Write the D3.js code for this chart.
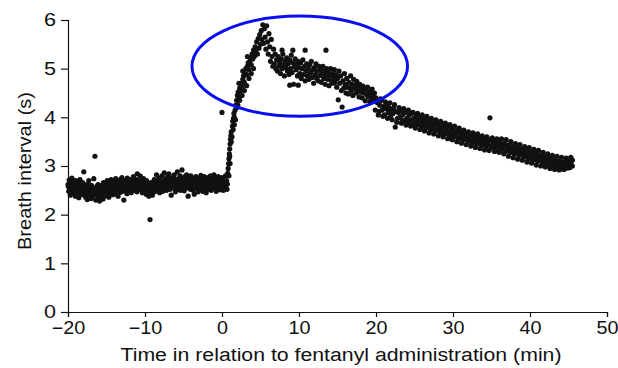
<!DOCTYPE html>
<html>
<head>
<meta charset="utf-8">
<script src="https://cdn.jsdelivr.net/npm/d3@7"></script>
<style>
  body { margin: 0; background: #fff; }
  svg { display: block; }
  text { font-family: "Liberation Sans", Arial, sans-serif; fill: #111; }
</style>
</head>
<body>
<svg id="chart" width="618" height="368"></svg>
<script>
// DATA: [time (min), breath interval (s)]
const baseline = [[-20,2.62],[-19.95,2.58],[-19.9,2.48],[-19.85,2.71],[-19.8,2.55],[-19.75,2.64],[-19.7,2.4],[-19.65,2.66],[-19.6,2.52],[-19.55,2.45],[-19.5,2.75],[-19.4,2.58],[-19.35,2.45],[-19.3,2.69],[-19.25,2.6],[-19.2,2.53],[-19.1,2.62],[-19.05,2.38],[-19,2.7],[-18.95,2.55],[-18.9,2.5],[-18.8,2.6],[-18.75,2.43],[-18.7,2.68],[-18.65,2.5],[-18.6,2.35],[-18.5,2.57],[-18.45,2.72],[-18.4,2.47],[-18.35,2.65],[-18.3,2.6],[-18.2,2.41],[-18.15,2.55],[-18.1,2.66],[-18.05,2.52],[-17.95,2.88],[-17.9,2.44],[-17.85,2.5],[-17.8,2.58],[-17.7,2.36],[-17.65,2.45],[-17.6,2.62],[-17.55,2.49],[-17.5,2.31],[-17.4,2.55],[-17.35,2.6],[-17.3,2.7],[-17.25,2.42],[-17.15,2.4],[-17.1,2.5],[-17,2.33],[-16.95,2.6],[-16.9,2.46],[-16.85,2.52],[-16.8,2.38],[-16.7,2.55],[-16.65,2.74],[-16.55,2.45],[-16.5,3.2],[-16.45,2.43],[-16.4,2.3],[-16.3,2.52],[-16.25,2.58],[-16.2,2.4],[-16.1,2.62],[-16.05,2.35],[-16,2.48],[-15.95,2.42],[-15.9,2.28],[-15.8,2.56],[-15.75,2.44],[-15.7,2.37],[-15.65,2.52],[-15.6,2.6],[-15.5,2.5],[-15.45,2.32],[-15.4,2.66],[-15.35,2.58],[-15.3,2.45],[-15.2,2.55],[-15.15,2.46],[-15.1,2.39],[-15.05,2.61],[-15,2.5],[-14.9,2.7],[-14.85,2.6],[-14.8,2.44],[-14.75,2.57],[-14.7,2.36],[-14.6,2.64],[-14.55,2.45],[-14.5,2.52],[-14.4,2.72],[-14.35,2.47],[-14.3,2.59],[-14.25,2.65],[-14.2,2.41],[-14.1,2.68],[-14,2.55],[-13.95,2.5],[-13.9,2.63],[-13.85,2.43],[-13.8,2.74],[-13.7,2.5],[-13.65,2.68],[-13.6,2.6],[-13.5,2.38],[-13.45,2.67],[-13.4,2.53],[-13.35,2.6],[-13.3,2.71],[-13.2,2.46],[-13.15,2.52],[-13.1,2.62],[-13.05,2.56],[-13,2.76],[-12.9,2.48],[-12.85,2.6],[-12.8,2.66],[-12.75,2.3],[-12.7,2.58],[-12.6,2.7],[-12.55,2.62],[-12.5,2.51],[-12.4,2.64],[-12.35,2.43],[-12.3,2.75],[-12.25,2.52],[-12.2,2.57],[-12.1,2.67],[-12,2.49],[-11.95,2.6],[-11.9,2.72],[-11.85,2.6],[-11.8,2.45],[-11.7,2.69],[-11.65,2.65],[-11.6,2.55],[-11.5,2.78],[-11.45,2.62],[-11.4,2.5],[-11.35,2.55],[-11.3,2.73],[-11.2,2.58],[-11.15,2.72],[-11.1,2.66],[-11.05,2.47],[-11,2.84],[-10.9,2.6],[-10.85,2.55],[-10.8,2.7],[-10.75,2.52],[-10.7,2.64],[-10.6,2.79],[-10.55,2.68],[-10.5,2.56],[-10.4,2.68],[-10.35,2.45],[-10.3,2.62],[-10.25,2.58],[-10.2,2.74],[-10.1,2.5],[-10,2.66],[-9.95,2.5],[-9.9,2.58],[-9.85,2.42],[-9.8,2.7],[-9.7,2.55],[-9.65,2.6],[-9.6,2.63],[-9.5,2.38],[-9.45,2.6],[-9.4,2.5],[-9.35,1.9],[-9.3,2.46],[-9.25,2.55],[-9.2,2.66],[-9.1,2.55],[-9.05,2.4],[-9,2.61],[-8.95,2.65],[-8.9,2.52],[-8.8,2.72],[-8.75,2.47],[-8.7,2.63],[-8.65,2.55],[-8.6,2.58],[-8.5,2.82],[-8.45,2.5],[-8.4,2.68],[-8.35,2.62],[-8.3,2.57],[-8.2,2.75],[-8.15,2.68],[-8.1,2.45],[-8.05,2.64],[-8,2.7],[-7.9,2.54],[-7.85,2.62],[-7.8,2.8],[-7.75,2.6],[-7.7,2.48],[-7.6,2.69],[-7.55,2.6],[-7.5,2.86],[-7.45,2.57],[-7.4,2.73],[-7.3,2.62],[-7.25,2.68],[-7.2,2.5],[-7.1,2.77],[-7.05,2.66],[-7,2.58],[-6.95,2.62],[-6.9,2.84],[-6.8,2.7],[-6.75,2.52],[-6.7,2.65],[-6.65,2.58],[-6.6,2.4],[-6.5,2.76],[-6.45,2.6],[-6.4,2.7],[-6.35,2.65],[-6.3,2.55],[-6.2,2.82],[-6.15,2.72],[-6.1,2.64],[-6.05,2.47],[-6,2.72],[-5.9,2.6],[-5.85,2.55],[-5.8,2.88],[-5.75,2.68],[-5.7,2.53],[-5.6,2.74],[-5.55,2.68],[-5.5,2.62],[-5.45,2.8],[-5.4,2.5],[-5.3,2.7],[-5.25,2.6],[-5.2,2.92],[-5.1,2.58],[-5.05,2.75],[-5,2.64],[-4.95,2.72],[-4.9,2.49],[-4.8,2.78],[-4.75,2.66],[-4.7,2.56],[-4.65,2.62],[-4.6,2.82],[-4.5,2.7],[-4.45,2.6],[-4.4,2.38],[-4.35,2.55],[-4.3,2.75],[-4.2,2.63],[-4.15,2.7],[-4.1,2.52],[-4.05,2.8],[-4,2.68],[-3.9,2.58],[-3.85,2.62],[-3.8,2.73],[-3.75,2.5],[-3.7,2.66],[-3.6,2.42],[-3.55,2.58],[-3.5,2.7],[-3.45,2.6],[-3.4,2.78],[-3.3,2.55],[-3.25,2.72],[-3.2,2.67],[-3.1,2.47],[-3.05,2.74],[-3,2.62],[-2.95,2.65],[-2.9,2.52],[-2.8,2.69],[-2.75,2.81],[-2.7,2.58],[-2.65,2.72],[-2.6,2.65],[-2.5,2.48],[-2.45,2.72],[-2.4,2.6],[-2.35,2.55],[-2.3,2.78],[-2.2,2.55],[-2.15,2.62],[-2.1,2.66],[-2.05,2.45],[-2,2.7],[-1.9,2.61],[-1.85,2.55],[-1.8,2.76],[-1.75,2.52],[-1.7,2.64],[-1.6,2.57],[-1.55,2.68],[-1.5,2.8],[-1.45,2.68],[-1.4,2.5],[-1.3,2.73],[-1.25,2.58],[-1.2,2.62],[-1.1,2.55],[-1.05,2.82],[-1,2.66],[-0.95,2.7],[-0.9,2.58],[-0.8,2.74],[-0.75,2.48],[-0.7,2.69],[-0.65,2.55],[-0.6,2.6],[-0.5,2.78],[-0.45,2.55],[-0.4,2.7],[-0.35,2.58],[-0.3,2.63],[-0.2,2.51],[-0.15,2.62],[-0.1,2.76],[-0.05,2.65],[0,2.58],[0.1,2.72],[0.15,2.6],[0.2,2.5],[0.3,2.67],[0.35,2.55],[0.4,2.6],[0.45,2.8],[0.5,2.56],[0.55,2.65],[0.6,2.7],[0.65,2.52],[0.7,2.63],[0.75,2.85]];

const rise = [[0,4.1],[0.8,2.95],[0.85,3.05],[0.9,2.8],[0.9,3.15],[0.95,3.25],[1,3.35],[1,3.2],[1.05,3.05],[1.05,3.45],[1.1,3.55],[1.15,3.62],[1.2,3.5],[1.2,3.7],[1.3,3.6],[1.35,3.82],[1.4,3.92],[1.45,3.75],[1.5,3.98],[1.55,4.08],[1.6,3.85],[1.6,4],[1.7,4.15],[1.75,3.95],[1.8,4.25],[1.9,4.35],[1.95,4.2],[2,4.45],[2.05,4.25],[2.1,4.52],[2.2,4.4],[2.2,4.7],[2.3,4.6],[2.3,4.35],[2.4,4.55],[2.5,4.7],[2.6,4.62],[2.6,4.45],[2.7,4.78],[2.7,4.95],[2.8,4.85],[2.9,4.72],[2.9,4.55],[3,4.9],[3.1,5],[3.2,4.88],[3.2,4.65],[3.3,5.05],[3.3,5.25],[3.4,5.12],[3.5,4.98],[3.5,4.8],[3.6,5.15],[3.7,5.22],[3.8,5.08],[3.8,4.9],[3.9,5.3],[4,5.2],[4.1,5.38],[4.1,5],[4.2,5.25],[4.3,5.45],[4.4,5.35],[4.5,5.55],[4.6,5.3],[4.7,5.62],[4.8,5.42],[4.9,5.7],[5,5.5],[5.1,5.78],[5.2,5.6],[5.3,5.9],[5.4,5.52],[5.5,5.82],[5.6,5.65],[5.7,5.4],[5.8,5.88],[5.9,5.55],[6,5.3],[6.1,5.72],[6.2,5.45],[6.3,5.15],[6.4,5.6],[6.5,5.25],[6.6,5.05],[6.7,5.4],[6.8,5.1],[6.9,5.3],[7,5]];

const decline = [[7.1,5.18],[7.2,4.95],[7.3,5.25],[7.4,5.05],[7.5,5.12],[7.6,4.9],[7.7,5.2],[7.8,5.38],[7.8,5],[7.9,5.3],[8,5.08],[8.1,4.85],[8.2,5.15],[8.3,5.02],[8.4,5.22],[8.5,4.95],[8.6,5.1],[8.7,4.88],[8.8,4.66],[8.8,5.18],[8.9,5],[9,5.28],[9.1,4.92],[9.2,5.38],[9.2,5.12],[9.3,4.68],[9.4,5.05],[9.5,5.2],[9.6,4.98],[9.7,5.1],[9.8,4.85],[9.9,4.66],[9.9,5.15],[10,5.02],[10.1,4.9],[10.2,5.12],[10.3,4.8],[10.4,5],[10.5,5.18],[10.6,4.88],[10.7,5.05],[10.8,5.38],[10.8,4.75],[10.9,4.95],[11,5.1],[11.1,4.85],[11.2,5],[11.3,4.78],[11.4,5.08],[11.5,4.92],[11.6,5.15],[11.7,4.82],[11.8,4.98],[11.9,4.7],[12,5.02],[12.1,4.88],[12.2,5.1],[12.3,4.8],[12.4,4.95],[12.5,4.75],[12.6,5.05],[12.7,4.86],[12.8,4.98],[12.9,4.72],[13,4.9],[13.1,5.05],[13.2,4.8],[13.3,4.95],[13.4,4.68],[13.5,5.38],[13.5,4.88],[13.6,5],[13.7,4.78],[13.8,4.92],[13.9,4.65],[14,4.85],[14.1,5],[14.2,4.75],[14.3,4.9],[14.4,4.7],[14.5,4.82],[14.6,4.98],[14.7,4.72],[14.8,4.88],[14.9,4.62],[15,4.8],[15.1,4.36],[15.2,4.95],[15.3,4.7],[15.4,4.85],[15.5,4.55],[15.6,4.21],[15.7,4.75],[15.8,4.6],[15.9,4.9],[16,4.68],[16.1,4.5],[16.2,4.8],[16.3,4.62],[16.4,4.48],[16.5,4.72],[16.6,4.6],[16.7,4.85],[16.8,4.55],[16.9,4.68],[17,4.45],[17.1,4.78],[17.2,4.6],[17.3,4.66],[17.4,4.5],[17.5,4.74],[17.6,4.55],[17.7,4.65],[17.8,4.42],[17.9,4.68],[18,4.52],[18.1,4.6],[18.2,4.4],[18.3,4.64],[18.4,4.5],[18.5,4.56],[18.6,4.34],[18.7,4.58],[18.8,4.46],[18.9,4.62],[19,4.42],[19.1,4.53],[19.2,4.32],[19.3,4.5],[19.4,4.4],[19.5,4.58],[19.6,4.44],[19.7,4.34],[19.8,4.5],[19.9,4.15],[20,4.4]];

const recovery = [[20.2,4.3],[20.3,4.05],[20.4,4.12],[20.5,4.25],[20.6,4.38],[20.7,4.35],[20.8,4.15],[20.9,4.02],[21,4.22],[21.1,4.05],[21.2,4.32],[21.3,4.18],[21.4,4.28],[21.5,3.98],[21.6,4.1],[21.7,4.2],[21.8,4.3],[21.9,4.02],[22,4.15],[22.1,3.95],[22.2,4.08],[22.3,4.2],[22.4,4.26],[22.5,3.8],[22.6,4.12],[22.7,3.9],[22.8,3.98],[22.9,4.1],[23,4.2],[23.1,4],[23.2,4.15],[23.3,3.88],[23.4,3.95],[23.5,4.06],[23.6,4.18],[23.7,3.92],[23.8,4.1],[23.9,3.84],[24,3.98],[24.1,3.88],[24.2,4.15],[24.3,4.05],[24.4,3.95],[24.5,3.82],[24.6,4.08],[24.7,3.86],[24.8,4.1],[24.9,3.98],[25,3.9],[25.1,3.78],[25.2,4.02],[25.3,3.84],[25.4,4.08],[25.5,3.95],[25.6,3.88],[25.7,3.75],[25.8,4],[25.9,3.8],[26,4.05],[26.1,3.92],[26.2,3.85],[26.3,3.72],[26.4,3.97],[26.5,3.78],[26.6,4.02],[26.7,3.9],[26.8,3.82],[26.9,3.68],[27,3.94],[27.1,3.75],[27.2,3.98],[27.3,3.86],[27.4,3.8],[27.5,3.66],[27.6,3.9],[27.7,3.72],[27.8,3.95],[27.9,3.84],[28,3.76],[28.1,3.62],[28.2,3.88],[28.3,3.68],[28.4,3.92],[28.5,3.8],[28.6,3.72],[28.7,3.6],[28.8,3.84],[28.9,3.65],[29,3.88],[29.1,3.77],[29.2,3.7],[29.3,3.56],[29.4,3.82],[29.5,3.62],[29.6,3.85],[29.7,3.74],[29.8,3.66],[29.9,3.54],[30,3.78],[30.1,3.6],[30.2,3.82],[30.3,3.7],[30.4,3.64],[30.5,3.5],[30.6,3.74],[30.7,3.56],[30.8,3.78],[30.9,3.68],[31,3.6],[31.1,3.47],[31.2,3.7],[31.3,3.54],[31.4,3.74],[31.5,3.64],[31.6,3.57],[31.7,3.44],[31.8,3.66],[31.9,3.5],[32,3.7],[32.1,3.6],[32.2,3.53],[32.3,3.41],[32.4,3.62],[32.5,3.46],[32.6,3.68],[32.7,3.56],[32.8,3.5],[32.9,3.38],[33,3.6],[33.1,3.45],[33.2,3.66],[33.3,3.54],[33.4,3.48],[33.5,3.36],[33.6,3.58],[33.7,3.42],[33.8,3.62],[33.9,3.52],[34,3.46],[34.1,3.33],[34.2,3.56],[34.3,3.4],[34.4,3.6],[34.5,3.5],[34.6,3.44],[34.7,3.32],[34.8,3.99],[34.9,3.54],[35,3.38],[35.1,3.58],[35.2,3.48],[35.3,3.42],[35.4,3.3],[35.5,3.52],[35.6,3.36],[35.7,3.56],[35.8,3.46],[35.9,3.4],[36,3.28],[36.1,3.5],[36.2,3.34],[36.3,3.56],[36.4,3.44],[36.5,3.38],[36.6,3.25],[36.7,3.47],[36.8,3.3],[36.9,3.54],[37,3.4],[37.1,3.34],[37.2,3.2],[37.3,3.44],[37.4,3.27],[37.5,3.5],[37.6,3.37],[37.7,3.31],[37.8,3.17],[37.9,3.41],[38,3.24],[38.1,3.46],[38.2,3.34],[38.3,3.28],[38.4,3.14],[38.5,3.38],[38.6,3.22],[38.7,3.44],[38.8,3.31],[38.9,3.25],[39,3.12],[39.1,3.35],[39.2,3.18],[39.3,3.4],[39.4,3.28],[39.5,3.22],[39.6,3.08],[39.7,3.32],[39.8,3.15],[39.9,3.38],[40,3.25],[40.1,3.19],[40.2,3.06],[40.3,3.29],[40.4,3.12],[40.5,3.34],[40.6,3.22],[40.7,3.16],[40.8,3.02],[40.9,3.26],[41,3.1],[41.1,3.32],[41.2,3.2],[41.3,3.14],[41.4,3],[41.5,3.23],[41.6,3.06],[41.7,3.28],[41.8,3.16],[41.9,3.1],[42,2.98],[42.1,3.2],[42.2,3.03],[42.3,3.25],[42.4,3.13],[42.5,3.07],[42.6,2.95],[42.7,3.17],[42.8,3],[42.9,3.22],[43,3.1],[43.1,3.04],[43.2,2.93],[43.3,3.14],[43.4,2.98],[43.5,3.2],[43.6,3.07],[43.7,3.01],[43.8,2.92],[43.9,3.11],[44,2.96],[44.1,3.18],[44.2,3.05],[44.3,2.99],[44.4,2.93],[44.5,3.09],[44.6,2.95],[44.7,3.16],[44.8,3.03],[44.9,3],[45,2.96],[45.1,3.1],[45.2,2.97],[45.3,3.05],[45.3,3.18],[45.4,3.12],[45.5,3],[45.5,3.12]];

const xTicks = [-20, -10, 0, 10, 20, 30, 40, 50];
const yTicks = [0, 1, 2, 3, 4, 5, 6];

// highlighted region: centre (min, s) and radii (min, s)
const highlightCentre = [10.1, 5.05];
const highlightRadii = [14, 1.03];

// SETUP
const svg = d3.select("#chart");
const x = d3.scaleLinear().domain([-20, 50]).range([68, 607]);
const y = d3.scaleLinear().domain([0, 6]).range([312, 20]);

// AXES (labels are a bit wider than the font, so stretch them horizontally)
svg.append("g")
    .attr("transform", `translate(0,${y(0)})`)
    .call(d3.axisBottom(x).tickValues(xTicks).tickFormat(d3.format("d"))
        .tickSizeOuter(0).tickSize(5).tickPadding(4))
    .call(g => g.selectAll("text").attr("font-size", 18).attr("transform", "scale(1.1,1)"))
    .call(g => g.selectAll("line, path").attr("stroke", "#111").attr("stroke-width", 1.2));

svg.append("g")
    .attr("transform", `translate(${x(-20)},0)`)
    .call(d3.axisLeft(y).tickValues(yTicks).tickFormat(d3.format("d"))
        .tickSizeOuter(0).tickSize(7).tickPadding(3))
    .call(g => g.selectAll("text").attr("font-size", 18).attr("transform", "scale(1.2,1)"))
    .call(g => g.selectAll("line, path").attr("stroke", "#111").attr("stroke-width", 1.2));

// POINTS
const allPoints = baseline.concat(rise, decline, recovery);
svg.append("g")
    .selectAll("circle")
    .data(allPoints)
    .join("circle")
    .attr("cx", d => x(d[0]))
    .attr("cy", d => y(d[1]))
    .attr("r", 2.6)
    .attr("fill", "#111");

// HIGHLIGHT ELLIPSE
svg.append("ellipse")
    .attr("cx", x(highlightCentre[0]))
    .attr("cy", y(highlightCentre[1]))
    .attr("rx", x(highlightRadii[0]) - x(0))
    .attr("ry", y(0) - y(highlightRadii[1]))
    .attr("fill", "none")
    .attr("stroke", "#0a0ff0")
    .attr("stroke-width", 3);

// LABELS
svg.append("text")
    .attr("text-anchor", "middle")
    .attr("x", 341)
    .attr("y", 361)
    .attr("font-size", 18)
    .attr("textLength", 441)
    .attr("lengthAdjust", "spacingAndGlyphs")
    .text("Time in relation to fentanyl administration (min)");

svg.append("text")
    .attr("text-anchor", "middle")
    .attr("transform", "translate(31,171) rotate(-90)")
    .attr("font-size", 18)
    .attr("textLength", 158)
    .attr("lengthAdjust", "spacingAndGlyphs")
    .text("Breath interval (s)");
</script>
</body>
</html>
